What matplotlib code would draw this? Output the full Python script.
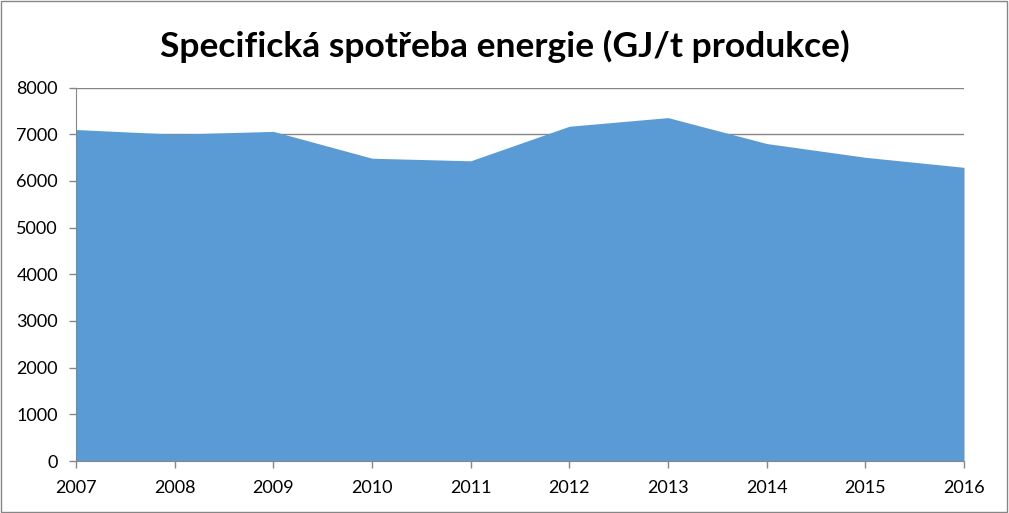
import matplotlib.pyplot as plt
from matplotlib.patches import Rectangle

years = [2007, 2008, 2009, 2010, 2011, 2012, 2013, 2014, 2015, 2016]
energy = [7100, 7000, 7060, 6485, 6430, 7170, 7355, 6800, 6505, 6290]
yticks = [0, 1000, 2000, 3000, 4000, 5000, 6000, 7000, 8000]

plt.rcParams['font.family'] = ['Lato', 'DejaVu Sans']

fig = plt.figure(figsize=(10.09, 5.13), dpi=100)
ax = fig.add_axes([76 / 1009, 1 - 461 / 513, 888 / 1009, 373.5 / 513])

ax.fill_between(years, energy, 0, color='#5B9BD5', linewidth=0, zorder=2)
ax.set_xlim(years[0], years[-1])
ax.set_ylim(0, 8000)
ax.set_xticks(years)
ax.set_yticks(yticks)
ax.tick_params(axis='both', labelsize=13, color='#868686', length=5, width=1)
ax.tick_params(axis='x', pad=9)
ax.tick_params(axis='y', pad=8)
ax.grid(axis='y', color='#868686', linewidth=1, zorder=1)
ax.set_axisbelow(True)
for s in ['top', 'right']:
    ax.spines[s].set_visible(False)
ax.spines['left'].set_color('#868686')
ax.spines['bottom'].set_color('#868686')

fig.text(0.5, 0.91, 'Specifická spotřeba energie (GJ/t produkce)', ha='center', va='center',
         fontsize=25.5, fontweight='bold')

fig.patches.append(Rectangle((0.001, 0.002), 0.997, 0.996, transform=fig.transFigure,
                             fill=False, edgecolor='#868686', linewidth=1))

fig.savefig('out.png', dpi=100)
